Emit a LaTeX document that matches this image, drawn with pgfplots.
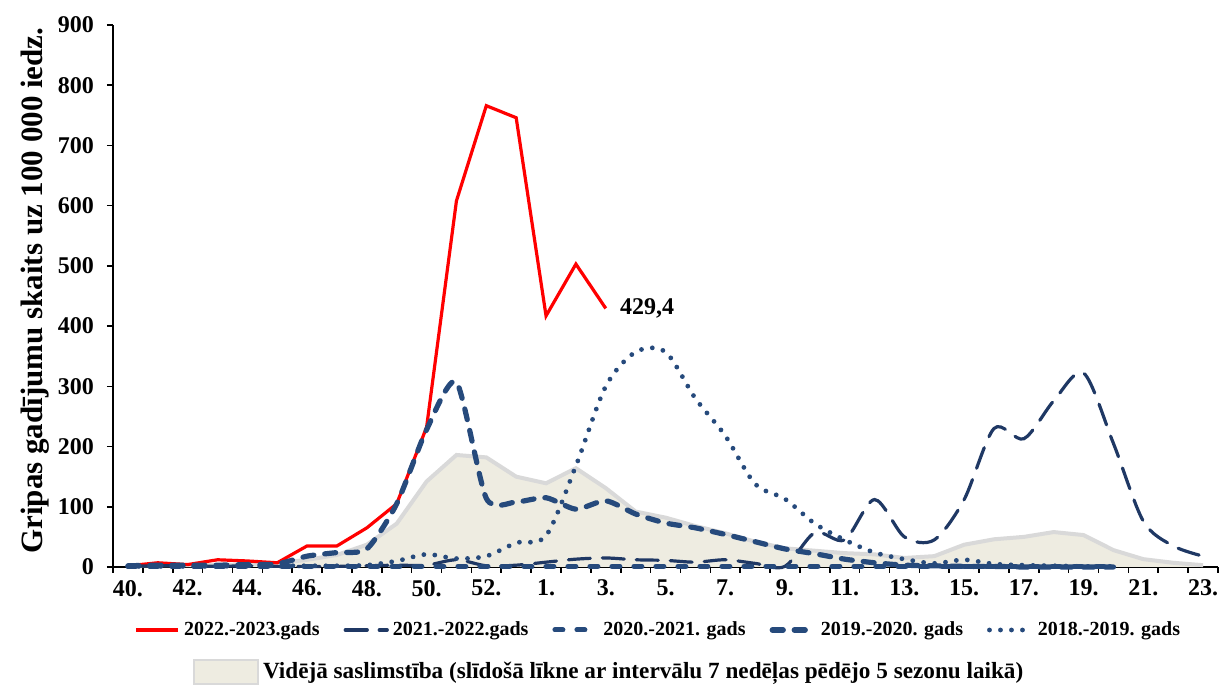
\documentclass[border=0pt]{standalone}
\usepackage{fontspec}
\setmainfont{Liberation Serif}
\usepackage{pgfplots}
\usepackage{pgfplotstable}
\pgfplotsset{compat=1.18}
\definecolor{redc}{HTML}{FF0000}
\definecolor{navyA}{HTML}{1F3864}
\definecolor{blueB}{HTML}{264A7C}
\definecolor{areaF}{HTML}{EEECE1}
\definecolor{areaL}{HTML}{D9D9D9}

\pgfplotstableread{
i v
0 2
1 7
2 4
3 12
4 10
5 7
6 35
7 35
8 65
9 105
10 232
11 608
12 766
13 746
14 417
15 503
16 429.4
}\redT

\pgfplotstableread{
i v
0 1
1 2
2 2
3 1
4 2
5 1
6 1
7 1
8 2
9 3
10 3
11 12
12 2
13 3
14 8
15 13
16 15
17 12
18 11
19 8
20 12
21 6
22 1
23 57
24 45
25 112
26 50
27 45
28 112
29 230
30 213
31 276
32 322
33 205
34 76
35 35
36 18
}\navyT

\pgfplotstableread{
i v
0 1
1 1
2 1
3 1
4 1
5 1
6 1
7 1
8 1
9 1
10 1
11 1
12 1
13 1
14 1
15 1
16 1
17 1
18 1
19 1
20 1
21 1
22 1
23 1
24 1
25 1
26 1
27 1
28 1
29 1
30 1
31 1
32 1
33 1
}\bT

\pgfplotstableread{
i v
0 2
1 3
2 3
3 3
4 4
5 5
6 18
7 24
8 30
9 105
10 228
11 307
12 114
13 108
14 115
15 96
16 110
17 88
18 73
19 65
20 54
21 42
22 30
23 22
24 13
25 7
26 3
27 2
28 1
29 1
30 0
31 0
32 0
33 0
}\cT

\pgfplotstableread{
i v
0 1
1 1
2 1
3 1
4 2
5 2
6 2
7 2
8 3
9 10
10 21
11 14
12 18
13 40
14 52
15 168
16 300
17 357
18 357
19 280
20 218
21 138
22 113
23 72
24 45
25 24
26 13
27 6
28 12
29 5
30 3
31 2
32 1
33 1
}\dT

\pgfplotstableread{
i v
0 2
1 3
2 3
3 3
4 4
5 6
6 12
7 20
8 37
9 72
10 142
11 186
12 182
13 150
14 139
15 164
16 131
17 92
18 82
19 68
20 56
21 42
22 31
23 27
24 23
25 21
26 15
27 18
28 37
29 46
30 50
31 58
32 53
33 28
34 13
35 7
36 3
}\avgT

\begin{document}
\begin{tikzpicture}
\path[use as bounding box] (0,0) rectangle (610.5pt,344pt);
\begin{axis}[
  at={(56.5pt,60.5pt)}, anchor=south west, scale only axis,
  width=552.5pt, height=271pt,
  xmin=-0.5, xmax=36.5, ymin=0, ymax=900,
  axis x line=bottom, axis y line=left,
  axis line style={-, black, line width=0.8pt},
  tick align=outside, major tick length=3pt,
  tick style={black, line width=0.8pt},
  xtick={-0.5,0.5,...,36.5}, xticklabels={},
  extra x ticks={0,2,...,36},
  extra x tick labels={40.,42.,44.,46.,48.,50.,52.,1.,3.,5.,7.,9.,11.,13.,15.,17.,19.,21.,23.},
  extra x tick style={major tick length=0pt},
  xticklabel style={font=\bfseries\fontsize{12}{14}\selectfont, yshift=-3pt},
  ytick={0,100,...,900},
  yticklabel style={font=\bfseries\fontsize{12}{14}\selectfont, xshift=-3pt},
  /pgf/number format/assume math mode=true,
  ylabel={Gripas gadījumu skaits uz 100 000 iedz.},
  ylabel style={font=\bfseries\fontsize{15.5}{18}\selectfont, at={(axis description cs:-0.07,0.51)}, anchor=center},
  legend columns=5,
  legend style={at={(axis description cs:0.5,0)}, anchor=center, yshift=-31.5pt, xshift=-3pt,
    draw=none, fill=none, font=\bfseries\fontsize{10}{12}\selectfont,
    /tikz/every even column/.append style={column sep=10pt}},
  legend image code/.code={\draw[#1] (0pt,0pt) -- (21pt,0pt);},
  clip=false,
]
\addplot[fill=areaF, draw=none, forget plot] table[x=i,y=v] {\avgT} \closedcycle;
\addplot[areaL, line width=2pt, forget plot] table[x=i,y=v] {\avgT};
\addplot[redc, line width=1.6pt] table[x=i,y=v] {\redT};
\addlegendentry{2022.-2023.gads}
\addplot[navyA, line width=1.6pt, smooth, line cap=round, dash pattern=on 11pt off 6pt] table[x=i,y=v] {\navyT};
\addlegendentry{2021.-2022.gads}
\addplot[blueB, line width=2.5pt, line cap=round, dash pattern=on 4pt off 7pt] table[x=i,y=v] {\bT};
\addlegendentry{2020.-2021. gads}
\addplot[blueB, line width=2.6pt, smooth, tension=0.4, line cap=round, dash pattern=on 5.5pt off 5.5pt] table[x=i,y=v] {\cT};
\addlegendentry{2019.-2020. gads}
\addplot[blueB, line width=2.4pt, smooth, line cap=round, dash pattern=on 0pt off 5.5pt] table[x=i,y=v] {\dT};
\addlegendentry{2018.-2019. gads}
\node[anchor=west, font=\bfseries\fontsize{12}{14}\selectfont, inner sep=0pt, xshift=7pt] at (axis cs:16,429.4) {429,4};
\end{axis}
\begin{axis}[
  at={(56.5pt,60.5pt)}, anchor=south west, scale only axis,
  width=552.5pt, height=271pt, hide axis,
  xmin=0, xmax=1, ymin=0, ymax=1,
  legend style={at={(axis description cs:0.5,0)}, anchor=center, yshift=-52.5pt, xshift=-27.75pt,
    draw=none, fill=none, font=\bfseries\fontsize{11.6}{13}\selectfont},
  legend image code/.code={\draw[#1] (0pt,-6pt) rectangle (32pt,6pt);},
]
\addlegendimage{fill=areaF, draw=areaL, line width=1.2pt}
\addlegendentry{Vidējā saslimstība (slīdošā līkne ar intervālu 7 nedēļas pēdējo 5 sezonu laikā)}
\end{axis}
\end{tikzpicture}
\end{document}
